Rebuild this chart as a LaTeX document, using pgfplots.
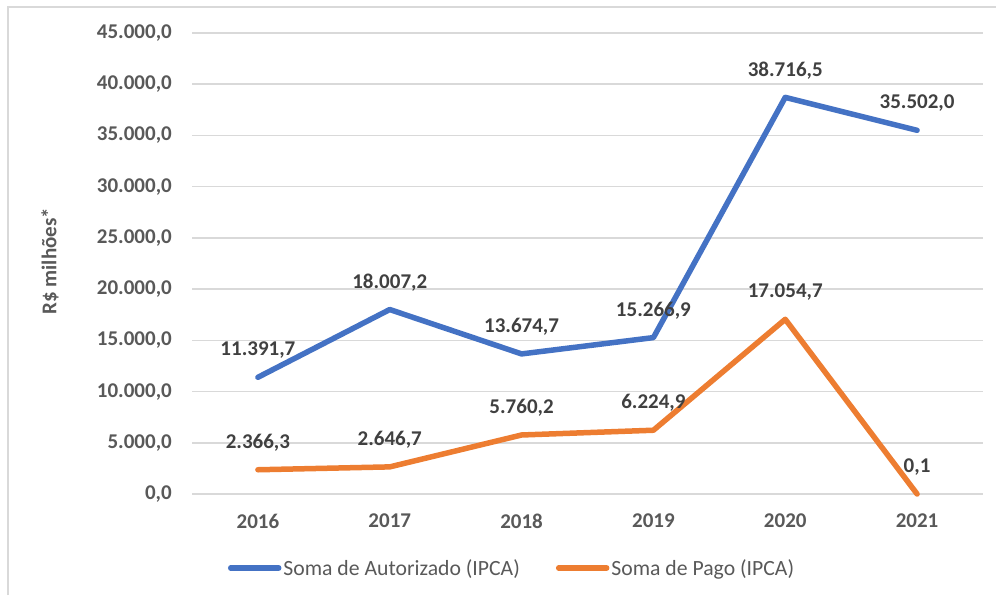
\documentclass[border=0pt]{standalone}
\usepackage{fontspec}
\setmainfont{Carlito}
\usepackage{pgfplots}
\pgfplotsset{compat=1.18}
\definecolor{cblue}{HTML}{4472C4}
\definecolor{corange}{HTML}{ED7D31}
\definecolor{gridc}{HTML}{D9D9D9}
\definecolor{tickc}{HTML}{595959}
\definecolor{labc}{HTML}{404040}
\begin{document}
\begin{tikzpicture}
\useasboundingbox (0,0) rectangle (996pt,595pt);
\draw[gridc, line width=1.5pt] (8pt,0pt) -- (8pt,588pt) -- (996pt,588pt);
\begin{axis}[
  at={(192pt,101pt)}, anchor=south west,
  scale only axis, width=791pt, height=461pt,
  xmin=-0.5, xmax=5.5, ymin=0, ymax=45000,
  xtick={0,1,2,3,4,5},
  xticklabels={2016,2017,2018,2019,2020,2021},
  ytick={0,5000,10000,15000,20000,25000,30000,35000,40000,45000},
  /pgf/number format/assume math mode=true,
  yticklabel={\pgfmathprintnumber[fixed,fixed zerofill,precision=1,use comma,1000 sep={.}]{\tick}},
  scaled y ticks=false,
  major tick length=0pt,
  axis line style={draw=none},
  ymajorgrids,
  grid style={gridc, line width=1.5pt},
  yticklabel style={font=\fontsize{21}{25}\selectfont\bfseries, text=tickc, anchor=east, inner sep=0pt, xshift=-20pt},
  xticklabel style={font=\fontsize{21}{25}\selectfont\bfseries, text=tickc, anchor=center, inner sep=0pt, yshift=-27pt},
  ylabel={R\$ milhões*},
  ylabel style={at={(axis description cs:-0.1795,0.505)}, anchor=center, font=\fontsize{21}{25}\selectfont\bfseries, text=tickc},
  clip=false,
  nodes near coords,
  point meta=explicit symbolic,
  nodes near coords style={anchor=center, yshift=27pt, inner sep=0pt, font=\fontsize{21}{25}\selectfont\bfseries, text=labc},
  legend style={draw=none, fill=none, at={(axis description cs:0.4046,-0.1605)}, anchor=center,
    legend columns=2, font=\fontsize{21.7}{26}\selectfont, text=tickc,
    /tikz/every even column/.append style={column sep=34pt},
    nodes={inner sep=2pt}},
  legend image code/.code={\draw[#1, line width=5.5pt, line cap=round] (0pt,0pt) -- (48pt,0pt);},
]
\addplot[cblue, line width=5.5pt, line cap=round, line join=round] table[x=x, y=y, meta=lab] {
x y lab
0 11391.7 11.391,7
1 18007.2 18.007,2
2 13674.7 13.674,7
3 15266.9 15.266,9
4 38716.5 38.716,5
5 35502.0 35.502,0
};
\addlegendentry{Soma de Autorizado (IPCA)}
\addplot[corange, line width=5.5pt, line cap=round, line join=round] table[x=x, y=y, meta=lab] {
x y lab
0 2366.3 2.366,3
1 2646.7 2.646,7
2 5760.2 5.760,2
3 6224.9 6.224,9
4 17054.7 17.054,7
5 0.1 0,1
};
\addlegendentry{Soma de Pago (IPCA)}
\end{axis}
\end{tikzpicture}
\end{document}
